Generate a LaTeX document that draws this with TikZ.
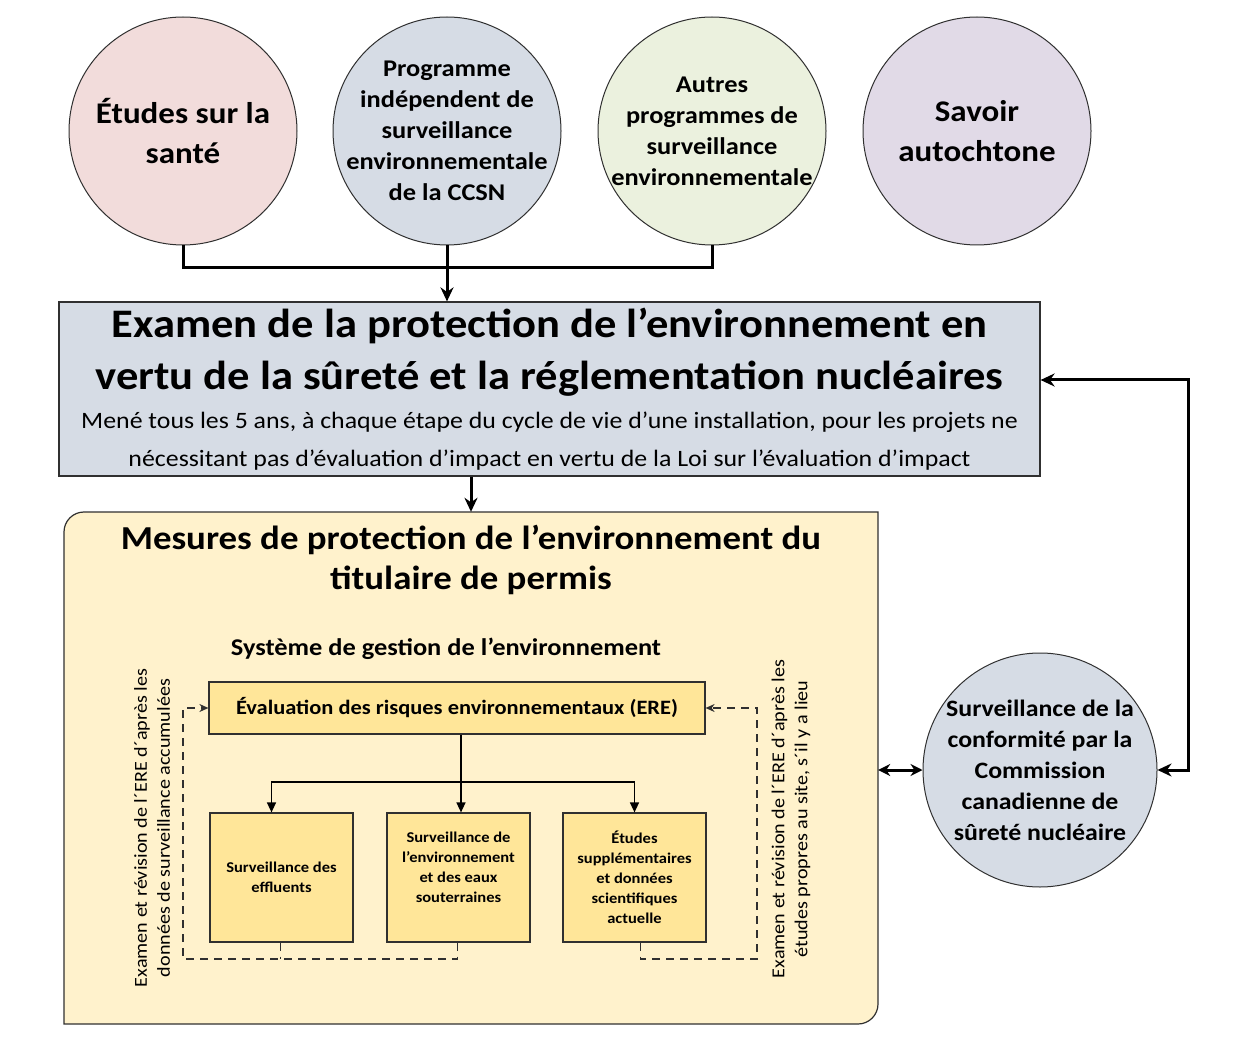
\documentclass[tikz,border=0pt]{standalone}
\usepackage{fontspec}
\setmainfont{Carlito}[FakeStretch=1.1]
\usetikzlibrary{arrows.meta}
\definecolor{cpink}{HTML}{F2DCDB}
\definecolor{cblue}{HTML}{D6DCE5}
\definecolor{cgreen}{HTML}{EBF1DE}
\definecolor{clav}{HTML}{E1DAE7}
\definecolor{cylw}{HTML}{FFF2CC}
\definecolor{cylwd}{HTML}{FFE699}
\definecolor{cline}{HTML}{303030}
\newcommand\myfs[2]{\fontsize{#1}{#2}\selectfont}
\begin{document}
\begin{tikzpicture}[x=1pt,y=-1pt,
  topcirc/.style={circle, draw=cline, line width=1pt, minimum size=228pt, inner sep=0pt},
  bigtxt/.style={font=\myfs{30}{40}\bfseries, align=center},
  medtxt/.style={font=\myfs{24}{31}\bfseries, align=center},
  mainbox/.style={draw=cline, line width=1.2pt, fill=cblue},
  ybox/.style={draw=cline, line width=1.2pt, fill=cylwd},
  smalltxt/.style={font=\myfs{15}{20}\bfseries, align=center},
  bigline/.style={line width=3pt, -{Stealth[length=14pt,width=13pt]}},
  inarr/.style={line width=1.4pt, -{Triangle[length=10pt,width=9pt]}},
  dashline/.style={line width=1.3pt, draw=cline, dash pattern=on 8pt off 6pt, -{Stealth[length=9pt,width=8pt]}},
  dashstub/.style={line width=1.3pt, draw=cline, dash pattern=on 8pt off 6pt},
  vtxt/.style={rotate=90, align=center, font=\myfs{18.3}{23}}
]
\useasboundingbox (0,0) rectangle (1245,1064);

% top circles
\node[topcirc, fill=cpink] (c1) at (183,131) {};
\node[bigtxt] (c1t) at (c1.center) {Études sur la\\santé};
\node[topcirc, fill=cblue] (c2) at (447,131) {};
\node[medtxt] (c2t) at (c2.center) {Programme\\indépendent de\\surveillance\\environnementale\\de la CCSN};
\node[topcirc, fill=cgreen] (c3) at (712,131) {};
\node[medtxt] (c3t) at (c3.center) {Autres\\programmes de\\surveillance\\environnementale};
\node[topcirc, fill=clav] (c4) at (977,131) {};
\node[bigtxt] (c4t) at (c4.center) {Savoir\\autochtone};

% main box
\node[mainbox, minimum width=981pt, minimum height=174pt] (exam) at (549.5,389) {};
\node[align=center, font=\myfs{40.5}{52}\bfseries] (examt) at (549.5,352) {Examen de la protection de l’environnement en\\vertu de la sûreté et la réglementation nucléaires};
\node[align=center, font=\myfs{23.5}{38}] (exams) at (549.5,441) {Mené tous les 5 ans, à chaque étape du cycle de vie d’une installation, pour les projets ne\\nécessitant pas d’évaluation d’impact en vertu de la Loi sur l’évaluation d’impact};

% connectors top
\coordinate (j3) at (712,268);
\draw[line width=3pt] (c1.south) |- (j3) -- (c3.south);
\draw[bigline] (c2.south) -- (c2.south |- exam.north);

% licensee box
\node[minimum width=814pt, minimum height=512pt, inner sep=0pt] (lic) at (471,768) {};
\draw[draw=cline, line width=1.2pt, fill=cylw] (64,800) [rounded corners=20pt] -- (64,512) [sharp corners] -- (878,512) [rounded corners=20pt] -- (878,1024) [sharp corners] -- (64,1024) -- cycle;
\draw[bigline] (exam.south -| lic.north) -- (lic.north);

\node[align=center, font=\myfs{33.5}{40}\bfseries] (lict) at (471,560) {Mesures de protection de l’environnement du\\titulaire de permis};
\node[font=\myfs{24}{26}\bfseries] (sge) at (446,649) {Système de gestion de l’environnement};

% ERE
\node[ybox, minimum width=496pt, minimum height=52pt, font=\myfs{20.4}{24}\bfseries] (ere) at (457,708) {Évaluation des risques environnementaux (ERE)};

\node[ybox, minimum width=143pt, minimum height=129pt, smalltxt] (b1) at (281.5,877.5) {Surveillance des\\effluents};
\node[ybox, minimum width=143pt, minimum height=129pt] (b2) at (458.5,877.5) {};
\node[smalltxt] (b2t) at (458.5,867) {Surveillance de\\l’environnement\\et des eaux\\souterraines};
\node[ybox, minimum width=143pt, minimum height=129pt, smalltxt] (b3) at (634.5,877.5) {Études\\supplémentaires\\et données\\scientifiques\\actuelle};

% inner arrows
\coordinate (hy) at (461,782);
\draw[inarr] (hy |- ere.south) -- (hy |- b2.north);
\draw[inarr] (hy) -| ([xshift=-10pt]b1.north);
\draw[inarr] (hy) -| (b3.north);

% dashed feedback
\coordinate (dl) at (183,959);
\coordinate (dr) at (757,959);
\draw[dashstub] ([xshift=-1pt]b1.south) -- ([xshift=-1pt]b1.south |- dl);
\draw[dashline] ([xshift=-1pt]b2.south) |- (dl) |- (ere.west);
\draw[dashline] ([xshift=6pt]b3.south) |- (dr) |- (ere.east);

\node[vtxt] (vl) at (152,828) {Examen et révision de l´ERE d´après les\\données de surveillance accumulées};
\node[vtxt] (vr) at (791,819) {Examen et révision de l´ERE d´après les\\études propres au site, s´il y a lieu};

% compliance circle
\node[circle, draw=cline, line width=1pt, fill=cblue, minimum size=234pt, inner sep=0pt] (comp) at (1040,770) {};
\node[align=center, font=\myfs{23.5}{31}\bfseries] (compt) at (comp.center) {Surveillance de la\\conformité par la\\Commission\\canadienne de\\sûreté nucléaire};

\coordinate (r1) at (1188,380);
\draw[line width=3pt, {Stealth[length=14pt,width=13pt]}-{Stealth[length=14pt,width=13pt]}] (r1 -| exam.east) -- (r1) |- (comp.east);
\draw[line width=3pt, {Stealth[length=12pt,width=12pt]}-{Stealth[length=12pt,width=12pt]}] (lic.east |- comp.west) -- (comp.west);
\end{tikzpicture}
\end{document}
